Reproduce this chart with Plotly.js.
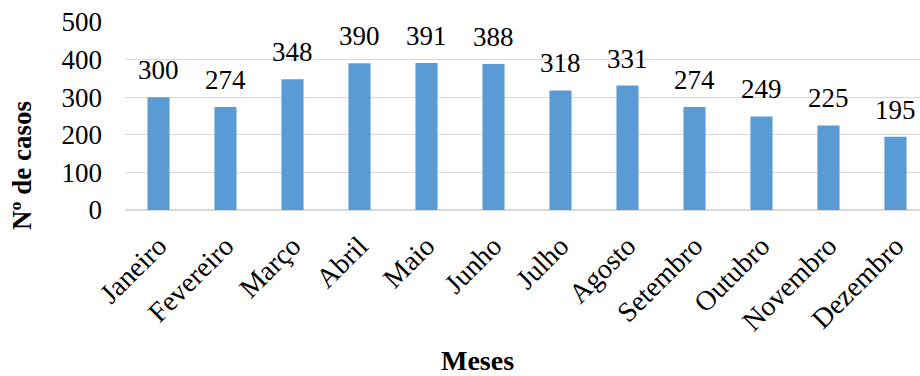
<!DOCTYPE html>
<html>
<head>
<meta charset="utf-8">
<script src="https://cdn.plot.ly/plotly-3.0.1.min.js"></script>
<style>html,body{margin:0;padding:0;background:#fff;}#chart{width:920px;height:376px;}</style>
</head>
<body>
<div id="chart"></div>
<script>
const months = ["Janeiro","Fevereiro","Março","Abril","Maio","Junho","Julho","Agosto","Setembro","Outubro","Novembro","Dezembro"];
const cases = [300,274,348,390,391,388,318,331,274,249,225,195];
const yTicks = [0,100,200,300,400,500];

const F = "Liberation Serif, Times New Roman, serif";
const trace = {
  type: "bar",
  x: months.map((m,i)=>i),
  y: cases,
  width: 0.33,
  marker: {color: "#5B9BD5"},
  hoverinfo: "none"
};
const labelAnns = cases.map((v,i)=>({
  x: i, y: v, xref: "x", yref: "y", text: String(v),
  showarrow: false, xanchor: "center", yanchor: "bottom", yshift: 10,
  font: {family: F, size: 27, color: "#000"}
}));
const layout = {
  width: 920, height: 376,
  margin: {l: 125, r: 0, t: 22, b: 166},
  paper_bgcolor: "#fff", plot_bgcolor: "#fff",
  showlegend: false,
  xaxis: {
    range: [-0.5, 11.366],
    tickmode: "array",
    tickvals: months.map((m,i)=>i),
    ticktext: months,
    tickangle: -45,
    tickfont: {family: F, size: 28, color: "#000"},
    showgrid: false, zeroline: false, showline: false,
    ticks: "", ticklabelstandoff: 13
  },
  yaxis: {
    range: [0, 500],
    tickmode: "array",
    tickvals: yTicks,
    ticktext: yTicks.map(String),
    tickfont: {family: F, size: 27, color: "#000"},
    showgrid: true, gridcolor: "#D9D9D9", gridwidth: 1.3,
    zeroline: true, zerolinecolor: "#D9D9D9", zerolinewidth: 1.3,
    showline: false, ticks: "", ticklabelstandoff: 22
  },
  annotations: labelAnns.concat([
    {text: "<b>Meses</b>", xref: "paper", yref: "paper", x: (477-125)/795, y: -(360-210)/188,
     xanchor: "center", yanchor: "middle", showarrow: false, font: {family: F, size: 28, color: "#000"}},
    {text: "<b>Nº de casos</b>", xref: "paper", yref: "paper", x: (22-125)/795, y: (210-166)/188,
     xanchor: "center", yanchor: "middle", textangle: -90, showarrow: false, font: {family: F, size: 27, color: "#000"}}
  ])
};
Plotly.newPlot("chart", [trace], layout, {staticPlot: true, displayModeBar: false});
</script>
</body>
</html>
